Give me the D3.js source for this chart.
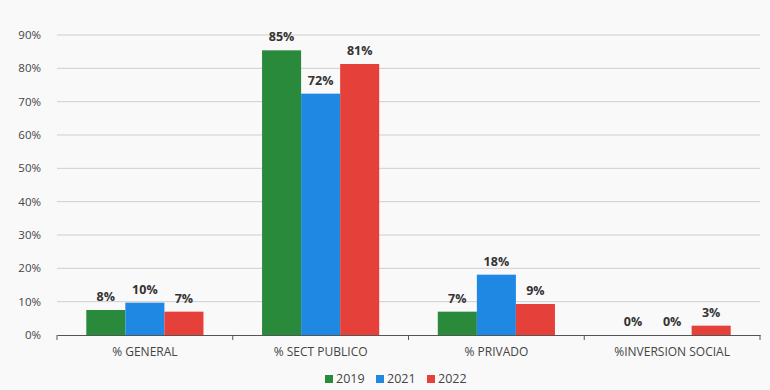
<!DOCTYPE html>
<html><head><meta charset="utf-8">
<script src="https://cdn.jsdelivr.net/npm/d3@7"></script>
<style>body{margin:0;background:#f9f9f9}svg{display:block}</style>
</head><body>
<svg id="c" width="770" height="390"></svg>
<script>
const categories = ["% GENERAL", "% SECT PUBLICO", "% PRIVADO", "%INVERSION SOCIAL"];
const seriesNames = ["2019", "2021", "2022"];
const v2019 = [7.5, 85.4, 7.0, 0];
const v2021 = [9.7, 72.4, 18.1, 0];
const v2022 = [7.0, 81.3, 9.3, 2.8];
const labels2019 = ["8%", "85%", "7%", "0%"];
const labels2021 = ["10%", "72%", "18%", "0%"];
const labels2022 = ["7%", "81%", "9%", "3%"];
const yTicks = [0,10,20,30,40,50,60,70,80,90];
const colors = ["#2a8a3c", "#1f88e3", "#e5403a"];

const series = [v2019, v2021, v2022];
const labelSets = [labels2019, labels2021, labels2022];

const svg = d3.select("#c");
svg.append("rect").attr("width",770).attr("height",390).attr("fill","#f9f9f9");
const m = {l:57};
const x0 = d3.scaleBand().domain(categories).range([m.l, 760]).paddingInner(0).paddingOuter(0);
const x1 = d3.scaleBand().domain(seriesNames).range([0, x0.bandwidth()]).paddingInner(0).paddingOuter(0.75);
const y = d3.scaleLinear().domain([0,90]).range([335, 35]);

const font = "'Open Sans', 'Liberation Sans', sans-serif";
// gridlines
svg.append("g").selectAll("line").data(yTicks.filter(d=>d>0)).join("line")
  .attr("x1", m.l).attr("x2", 760).attr("y1", d=>y(d)).attr("y2", d=>y(d))
  .attr("stroke", "#cfcfcf").attr("stroke-width", 1);
// y labels
svg.append("g").selectAll("text").data(yTicks).join("text")
  .attr("x", 41).attr("y", d=>y(d)+4).attr("text-anchor","end")
  .attr("font-family", font).attr("font-size", 11.5).attr("fill","#444")
  .text(d=>d+"%");

// bars
categories.forEach((c,ci)=>{
  series.forEach((s,si)=>{
    svg.append("rect")
      .attr("x", x0(c)+x1(seriesNames[si]))
      .attr("width", x1.bandwidth())
      .attr("y", y(s[ci]))
      .attr("height", y(0)-y(s[ci]))
      .attr("fill", colors[si]);
    svg.append("text")
      .attr("x", x0(c)+x1(seriesNames[si])+x1.bandwidth()/2)
      .attr("y", y(s[ci])-9)
      .attr("text-anchor","middle")
      .attr("font-family", font).attr("font-size", 12.5).attr("font-weight","bold")
      .attr("fill","#333")
      .text(labelSets[si][ci]);
  });
});

// x axis
const xAxis = d3.axisBottom(x0).tickSize(0).tickPadding(12);
const gx = svg.append("g").attr("transform", `translate(0,${y(0)})`).call(xAxis);
gx.select(".domain").attr("stroke","#555").attr("stroke-width",1.2);
gx.selectAll("text").attr("font-family", font).attr("font-size", 12).attr("fill","#444");
// category boundary ticks
const bounds = categories.map(c=>x0(c)).concat([x0.range()[1]]);
svg.append("g").selectAll("line").data(bounds).join("line")
  .attr("x1", d=>d).attr("x2", d=>d).attr("y1", y(0)).attr("y2", y(0)+5)
  .attr("stroke","#555");

// legend
const lg = svg.append("g").attr("transform","translate(325,383)");
seriesNames.forEach((n,i)=>{
  const g = lg.append("g").attr("transform",`translate(${i*51},0)`);
  g.append("rect").attr("x",0).attr("y",-8).attr("width",8).attr("height",8).attr("fill",colors[i]);
  g.append("text").attr("x",11).attr("y",0).attr("font-family",font).attr("font-size",12.5).attr("fill","#444").text(n);
});
</script>
</body></html>
